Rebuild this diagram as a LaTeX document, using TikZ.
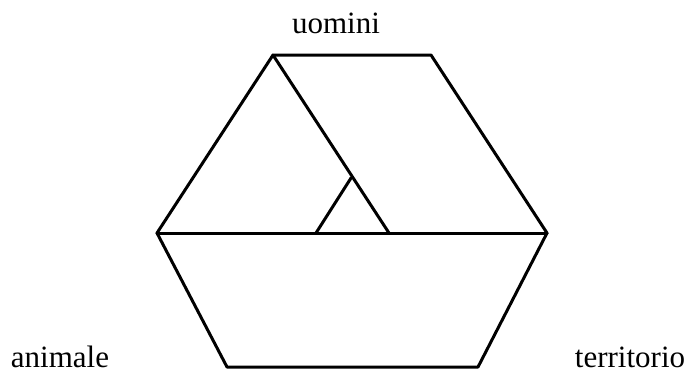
\documentclass[tikz,border=0pt]{standalone}
\usepackage{fontspec}
\setmainfont{Liberation Serif}
\usetikzlibrary{positioning}
\tikzset{
  edge/.style={draw=black, line width=3pt, line join=round, line cap=round},
  corner/.style={font=\fontsize{31}{37}\selectfont, anchor=base, inner sep=0pt}
}

\begin{document}
\begin{tikzpicture}[x=1pt, y=-1pt]
  \useasboundingbox (0,0) rectangle (690,373);
  % hexagon corners
  \coordinate (topleft) at (273,55);
  \coordinate (topright) at (431,55);
  \coordinate (right) at (547,233);
  \coordinate (botright) at (478,367);
  \coordinate (botleft) at (227,367);
  \coordinate (left) at (157,233);
  % inner points
  \coordinate (cut) at (389,233);
  \coordinate (foot) at (316,233);
  \coordinate (apex) at (351,178);
  \draw[edge] (topleft) -- (topright) -- (right) -- (botright) -- (botleft) -- (left) -- cycle;
  \draw[edge] (left) -- (right);
  \draw[edge] (topleft) -- (cut);
  \draw[edge] (foot) -- (apex);
  % labels
  \node[corner] (uomini) at (336,33) {uomini};
  \node[corner] (animale) at (60,367) {animale};
  \node[corner] (territorio) at (630,367) {territorio};
\end{tikzpicture}
\end{document}
